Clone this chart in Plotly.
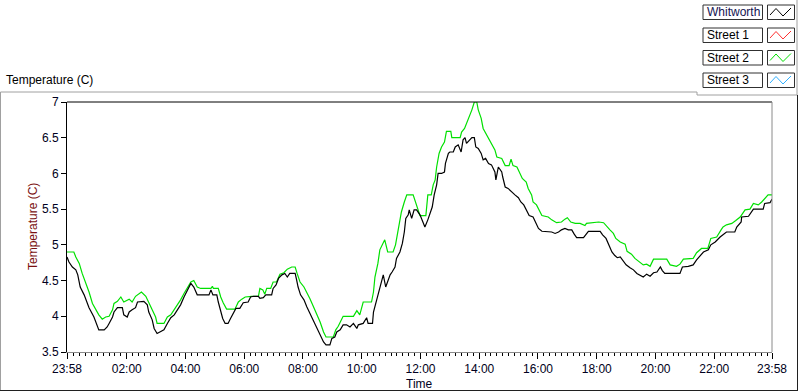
import datetime as dt
import plotly.graph_objects as go

# ---- data (minutes after 23:58 start, temperature in C) ----
whitworth_min = [0, 4, 11, 18, 22, 27, 35, 45, 55, 62, 65, 76, 82, 86, 93, 96, 103, 113, 116, 123,
                 127, 133, 140, 144, 157, 164, 167, 174, 178, 184, 191, 198, 205, 212, 219, 225, 232,
                 239, 246, 253, 259, 266, 290, 294, 298, 306, 309, 314, 318, 323, 329, 334, 340, 345,
                 353, 360, 370, 375, 381, 391, 394, 401, 406, 418, 421, 427, 432, 439, 445, 450, 455,
                 466, 469, 472, 477, 484, 490, 496, 503, 510, 517, 524, 529, 537, 541, 547, 551, 558,
                 564, 571, 578, 585, 592, 595, 605, 612, 615, 624, 626, 631, 636, 641, 646, 651, 656,
                 660, 664, 670, 673, 680, 685, 689, 692, 697, 699, 704, 709, 714, 721, 725, 731, 737,
                 741, 746, 750, 755, 758, 765, 771, 773, 779, 782, 789, 793, 799, 805, 809, 813, 816,
                 823, 827, 832, 835, 840, 846, 850, 855, 861, 867, 874, 876, 881, 888, 890, 895, 901,
                 908, 915, 922, 927, 933, 938, 944, 952, 958, 963, 970, 980, 990, 997, 1004, 1010,
                 1017, 1024, 1031, 1036, 1041, 1055, 1060, 1065, 1089, 1094, 1101, 1106, 1113, 1119,
                 1124, 1130, 1135, 1142, 1150, 1157, 1164, 1170, 1177, 1184, 1191, 1198, 1205, 1212,
                 1216, 1221, 1252, 1257, 1269, 1279, 1286, 1300, 1310, 1315, 1324, 1334, 1343, 1347,
                 1364, 1368, 1377, 1378, 1392, 1399, 1402, 1422, 1425, 1436, 1440]
whitworth_temp = [4.83, 4.76, 4.69, 4.65, 4.58, 4.41, 4.30, 4.12, 3.99, 3.88, 3.81, 3.81, 3.85, 3.90,
                  3.99, 4.06, 4.12, 4.12, 4.02, 3.99, 4.06, 4.09, 4.12, 4.20, 4.21, 4.16, 4.06, 3.95,
                  3.83, 3.76, 3.78, 3.81, 3.90, 3.98, 4.02, 4.09, 4.16, 4.27, 4.37, 4.46, 4.41, 4.30,
                  4.30, 4.37, 4.30, 4.30, 4.20, 4.09, 3.97, 3.90, 3.90, 3.97, 4.04, 4.11, 4.11, 4.19,
                  4.20, 4.27, 4.28, 4.28, 4.25, 4.26, 4.30, 4.30, 4.39, 4.44, 4.53, 4.58, 4.60, 4.55,
                  4.60, 4.60, 4.51, 4.41, 4.30, 4.23, 4.13, 4.04, 3.95, 3.85, 3.74, 3.64, 3.60, 3.60,
                  3.69, 3.71, 3.78, 3.81, 3.88, 3.88, 3.85, 3.90, 3.83, 3.88, 3.90, 3.98, 3.90, 3.90,
                  4.06, 4.20, 4.30, 4.46, 4.58, 4.41, 4.51, 4.58, 4.62, 4.69, 4.81, 4.90, 5.02, 5.18,
                  5.37, 5.42, 5.49, 5.37, 5.49, 5.49, 5.42, 5.35, 5.25, 5.35, 5.42, 5.53, 5.70, 5.84,
                  6.00, 6.00, 6.02, 6.14, 6.28, 6.30, 6.30, 6.37, 6.40, 6.30, 6.47, 6.50, 6.42, 6.47,
                  6.50, 6.50, 6.37, 6.35, 6.28, 6.19, 6.21, 6.14, 6.12, 6.02, 5.91, 6.09, 6.02, 5.95,
                  5.81, 5.79, 5.74, 5.70, 5.66, 5.60, 5.56, 5.49, 5.41, 5.39, 5.30, 5.23, 5.19, 5.19,
                  5.18, 5.16, 5.18, 5.21, 5.23, 5.21, 5.21, 5.15, 5.10, 5.10, 5.15, 5.19, 5.19, 5.14,
                  5.09, 5.00, 4.90, 4.85, 4.82, 4.83, 4.79, 4.72, 4.68, 4.65, 4.60, 4.58, 4.55, 4.59,
                  4.56, 4.61, 4.62, 4.69, 4.64, 4.60, 4.60, 4.69, 4.70, 4.72, 4.79, 4.90, 4.93, 5.00,
                  5.04, 5.11, 5.16, 5.18, 5.18, 5.25, 5.32, 5.39, 5.40, 5.46, 5.50, 5.50, 5.58, 5.59,
                  5.64]

street2_min = [0, 14, 18, 25, 31, 38, 45, 52, 59, 65, 72, 79, 86, 93, 96, 103, 110, 116, 127, 133,
               140, 152, 161, 167, 174, 181, 184, 198, 205, 212, 219, 225, 232, 239, 246, 253, 259,
               266, 273, 294, 297, 299, 309, 314, 319, 326, 343, 350, 357, 364, 377, 391, 394, 400,
               404, 408, 416, 421, 428, 435, 443, 450, 459, 466, 470, 476, 484, 490, 496, 503, 510,
               517, 524, 529, 544, 549, 554, 561, 564, 585, 592, 598, 605, 622, 626, 629, 635, 639,
               646, 649, 655, 666, 671, 675, 680, 683, 689, 694, 707, 712, 716, 721, 733, 737, 744,
               748, 752, 755, 760, 765, 771, 775, 784, 786, 803, 806, 812, 816, 822, 827, 832, 837,
               840, 846, 850, 857, 864, 869, 874, 878, 888, 895, 903, 907, 911, 919, 925, 930, 938,
               942, 949, 952, 959, 964, 970, 983, 990, 1000, 1010, 1017, 1022, 1029, 1038, 1048,
               1058, 1061, 1075, 1086, 1096, 1102, 1109, 1116, 1121, 1130, 1140, 1144, 1153, 1160,
               1170, 1177, 1184, 1191, 1198, 1225, 1232, 1245, 1252, 1259, 1279, 1286, 1296, 1309,
               1315, 1327, 1336, 1340, 1347, 1358, 1366, 1375, 1385, 1395, 1402, 1412, 1419, 1425,
               1432, 1440]
street2_temp = [4.90, 4.90, 4.83, 4.74, 4.60, 4.48, 4.34, 4.18, 4.09, 4.02, 3.96, 3.99, 4.00, 4.09,
                4.18, 4.21, 4.27, 4.20, 4.24, 4.20, 4.28, 4.34, 4.28, 4.20, 4.09, 3.99, 3.90, 3.90,
                3.99, 4.02, 4.09, 4.16, 4.23, 4.32, 4.41, 4.48, 4.50, 4.41, 4.39, 4.39, 4.42, 4.39,
                4.39, 4.27, 4.19, 4.10, 4.10, 4.20, 4.24, 4.27, 4.28, 4.28, 4.39, 4.37, 4.31, 4.39,
                4.39, 4.48, 4.48, 4.59, 4.61, 4.66, 4.69, 4.69, 4.60, 4.48, 4.41, 4.34, 4.25, 4.14,
                4.04, 3.92, 3.78, 3.71, 3.71, 3.81, 3.86, 3.95, 4.00, 4.00, 4.08, 4.02, 4.20, 4.20,
                4.34, 4.55, 4.74, 4.93, 5.04, 5.07, 4.90, 4.90, 5.00, 5.14, 5.32, 5.46, 5.60, 5.70,
                5.70, 5.60, 5.49, 5.41, 5.41, 5.70, 5.70, 5.84, 5.91, 6.09, 6.28, 6.37, 6.44, 6.59,
                6.59, 6.50, 6.50, 6.58, 6.63, 6.70, 6.79, 6.89, 7.00, 7.00, 6.89, 6.77, 6.63, 6.54,
                6.47, 6.40, 6.33, 6.23, 6.21, 6.11, 6.11, 6.20, 6.11, 6.09, 6.00, 5.93, 5.88, 5.79,
                5.70, 5.60, 5.56, 5.49, 5.41, 5.39, 5.35, 5.31, 5.32, 5.36, 5.38, 5.32, 5.30, 5.30,
                5.27, 5.30, 5.31, 5.32, 5.31, 5.27, 5.21, 5.16, 5.09, 5.04, 5.01, 4.91, 4.87, 4.81,
                4.76, 4.72, 4.73, 4.70, 4.80, 4.80, 4.72, 4.70, 4.73, 4.80, 4.81, 4.89, 4.95, 4.95,
                5.09, 5.11, 5.21, 5.25, 5.28, 5.30, 5.34, 5.39, 5.49, 5.50, 5.58, 5.56, 5.60, 5.65,
                5.70, 5.70]

series_names = ["Whitworth", "Street 1", "Street 2", "Street 3"]
series_colors = ["#000000", "#ff3030", "#00e000", "#30b0ff"]
x_tick_labels = ["23:58", "02:00", "04:00", "06:00", "08:00", "10:00", "12:00",
                 "14:00", "16:00", "18:00", "20:00", "22:00", "23:58"]
y_tick_vals = [3.5, 4, 4.5, 5, 5.5, 6, 6.5, 7]

start = dt.datetime(2013, 1, 1, 23, 58)
end = start + dt.timedelta(minutes=1440)


def to_time(mins):
    return [start + dt.timedelta(minutes=m) for m in mins]


tick_vals = [start] + [dt.datetime(2013, 1, 2, h, 0) for h in range(2, 23, 2)] + [end]

FONT = "Liberation Sans, Arial, sans-serif"

fig = go.Figure()
fig.add_trace(go.Scatter(x=to_time(street2_min), y=street2_temp, mode="lines",
                         line=dict(color=series_colors[2], width=1.2), name="Street 2"))
fig.add_trace(go.Scatter(x=to_time(whitworth_min), y=whitworth_temp, mode="lines",
                         line=dict(color=series_colors[0], width=1.2), name="Whitworth"))

# plot-area geometry in pixels (for decorations only)
L, R, T, B = 67, 772, 102, 352
W, H = R - L, B - T


def px(x):
    return (x - L) / W


def py(y):
    return (B - y) / H


shapes = []
# plot frame: top black, right gray
shapes.append(dict(type="line", xref="paper", yref="paper", x0=0, x1=1, y0=1, y1=1,
                   line=dict(color="#000000", width=1)))
shapes.append(dict(type="line", xref="paper", yref="paper", x0=1, x1=1, y0=0, y1=1,
                   line=dict(color="#8a8a8a", width=1)))
# outer panel frame
g = "#a0a0a0"
shapes.append(dict(type="line", xref="paper", yref="paper", x0=px(0.5), x1=px(697), y0=py(92), y1=py(92),
                   line=dict(color=g, width=1)))
shapes.append(dict(type="line", xref="paper", yref="paper", x0=px(0.5), x1=px(0.5), y0=py(92), y1=py(391),
                   line=dict(color=g, width=1)))
shapes.append(dict(type="line", xref="paper", yref="paper", x0=px(697), x1=px(697), y0=py(92), y1=py(95),
                   line=dict(color=g, width=1)))
shapes.append(dict(type="line", xref="paper", yref="paper", x0=px(697), x1=px(797), y0=py(95), y1=py(95),
                   line=dict(color=g, width=1)))
shapes.append(dict(type="line", xref="paper", yref="paper", x0=px(797), x1=px(797), y0=py(0), y1=py(95),
                   line=dict(color=g, width=1)))
shapes.append(dict(type="line", xref="paper", yref="paper", x0=px(797.5), x1=px(797.5), y0=py(95), y1=py(391),
                   line=dict(color="#202020", width=1)))
shapes.append(dict(type="line", xref="paper", yref="paper", x0=px(0), x1=px(798), y0=py(390.5), y1=py(390.5),
                   line=dict(color="#202020", width=1)))

annotations = []
# legend rows
row_tops = [5, 28, 50.5, 73]
for i, name in enumerate(series_names):
    t = row_tops[i]
    b = t + 14.5
    annotations.append(dict(xref="paper", yref="paper", x=px(705), y=py((t + b) / 2),
                            xanchor="left", yanchor="middle", text=name, showarrow=False,
                            font=dict(family=FONT, size=12,
                                      color="#141450" if i == 0 else "#000000")))
    shapes.append(dict(type="rect", xref="paper", yref="paper", x0=px(703), x1=px(762.5),
                       y0=py(b), y1=py(t), line=dict(color="#303030", width=1), fillcolor="white",
                       layer="below"))
    shapes.append(dict(type="rect", xref="paper", yref="paper", x0=px(767.5), x1=px(794.5),
                       y0=py(b), y1=py(t), line=dict(color="#303030", width=1), fillcolor="white",
                       layer="below"))
    pts = [(770, t + 10), (776, t + 3.5), (783, t + 11), (791, t + 3)]
    path = "M " + " L ".join(f"{px(a)},{py(c)}" for a, c in pts)
    shapes.append(dict(type="path", xref="paper", yref="paper", path=path,
                       line=dict(color=series_colors[i], width=1)))

# top-left chart label
annotations.append(dict(xref="paper", yref="paper", x=px(4), y=py(80), xanchor="left", yanchor="middle",
                        text="Temperature (C)", showarrow=False,
                        font=dict(family=FONT, size=12, color="#000000")))
# y axis title
annotations.append(dict(xref="paper", yref="paper", x=px(33), y=py(227), xanchor="center", yanchor="middle",
                        text="Temperature (C)", textangle=-90, showarrow=False,
                        font=dict(family=FONT, size=12, color="#7a1010")))
# x axis title
annotations.append(dict(xref="paper", yref="paper", x=0.5, y=py(384), xanchor="center", yanchor="middle",
                        text="Time", showarrow=False,
                        font=dict(family=FONT, size=12, color="#000020")))

fig.update_layout(
    width=800, height=392,
    margin=dict(l=L, r=800 - R, t=T, b=392 - B, pad=0),
    plot_bgcolor="white", paper_bgcolor="white",
    showlegend=False,
    font=dict(family=FONT, size=12, color="#000000"),
    shapes=shapes, annotations=annotations,
    xaxis=dict(type="date", range=[start, end], tickmode="array", tickvals=tick_vals,
               ticktext=x_tick_labels, ticks="outside", ticklen=6, tickwidth=1, tickcolor="#000000",
               showgrid=False, zeroline=False, showline=True, linecolor="#8a8a8a", linewidth=1,
               tickfont=dict(family=FONT, size=12, color="#000020"),
               minor=dict(ticks="outside", ticklen=3, tickwidth=1, tickcolor="#000000",
                          tickmode="linear", tick0="2013-01-02 00:00", dtick=720000, showgrid=False)),
    yaxis=dict(range=[3.5, 7], tickmode="array", tickvals=y_tick_vals,
               ticktext=[f"{v:g}" for v in y_tick_vals], ticks="outside", ticklen=5, tickwidth=1,
               tickcolor="#000000", showgrid=False, zeroline=False, showline=True,
               linecolor="#000000", linewidth=1,
               tickfont=dict(family=FONT, size=12, color="#000020")),
)

fig.write_html("out.html", config={"displayModeBar": False},
               post_script="document.body.style.margin='0';document.body.style.overflow='hidden';")
